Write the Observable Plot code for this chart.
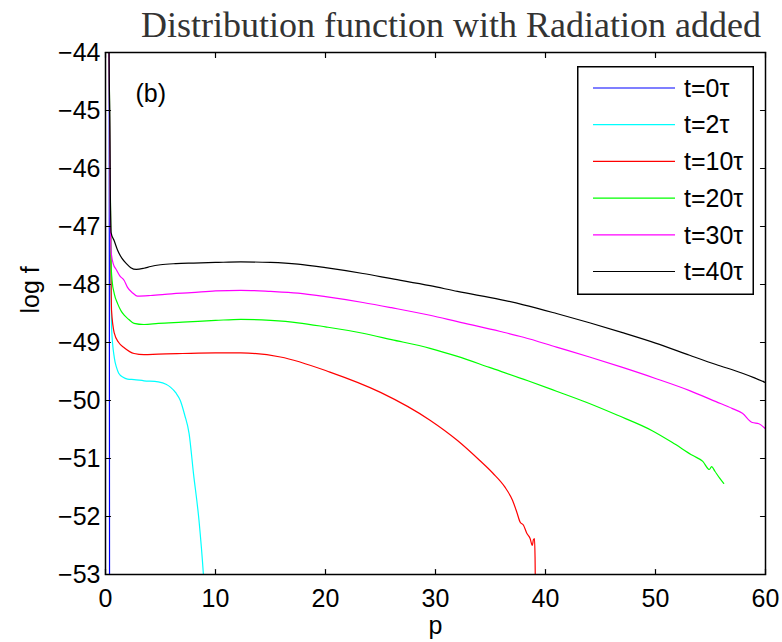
<!DOCTYPE html>
<html><head><meta charset="utf-8">
<script src="https://cdn.jsdelivr.net/npm/d3@7"></script>
<script src="https://cdn.jsdelivr.net/npm/@observablehq/plot@0.6"></script>
<style>
body{margin:0;background:#fff;}
#wrap{position:relative;width:782px;height:642px;overflow:hidden;}
#title{position:absolute;left:0;top:7px;width:902px;text-align:center;font-family:"Liberation Serif","Times New Roman",serif;font-size:36px;line-height:36px;color:#333;white-space:nowrap;}
#legend{position:absolute;left:577px;top:66px;}
</style></head>
<body>
<div id="wrap"><div id="title">Distribution function with Radiation added</div></div>
<script>
const seriesNames = ["t=0τ", "t=2τ", "t=10τ", "t=20τ", "t=30τ", "t=40τ"];
const seriesColors = ["#0000ff", "#00ffff", "#ff0000", "#00ff00", "#ff00ff", "#000000"];
const xTicks = [0, 10, 20, 30, 40, 50, 60];
const yTicks = [-53, -52, -51, -50, -49, -48, -47, -46, -45, -44];

const p0 = [0.33, 0.35, 0.37];
const f0 = [-43, -48, -54];

const p2 = [0.3, 0.5, 0.55, 0.8, 1.0, 1.2, 1.6, 2.0, 2.6, 3.5, 4.8, 5.5, 5.9, 6.4, 6.8, 7.2, 7.6, 8.0, 8.5, 8.9, 9.0];
const f2 = [-43.5, -48.0, -48.74, -49.26, -49.43, -49.53, -49.6, -49.63, -49.64, -49.66, -49.68, -49.72, -49.77, -49.87, -50.0, -50.25, -50.57, -51.26, -52.07, -53.0, -53.3];

const p10 = [0.3, 0.5, 0.55, 0.8, 1.2, 1.7, 2.6, 3.5, 4.8, 7, 10, 12.3, 15.9, 20.4, 25, 29.5, 32, 34, 35.2, 36.3, 37, 37.4, 37.7, 38.0, 38.3, 38.6, 38.8, 38.9, 39.0, 39.05, 39.1];
const f10 = [-43.5, -47.8, -48.45, -48.84, -49.0, -49.09, -49.19, -49.21, -49.2, -49.19, -49.18, -49.18, -49.25, -49.51, -49.86, -50.34, -50.69, -51.03, -51.25, -51.49, -51.72, -51.93, -52.1, -52.15, -52.29, -52.38, -52.5, -52.4, -52.38, -52.7, -53.5];

const p20 = [0.3, 0.5, 0.6, 0.8, 1.1, 1.4, 1.7, 2.1, 2.6, 3.5, 4.8, 7, 10, 12.3, 15, 17.5, 20, 23.4, 26, 29.5, 32, 34.9, 38.4, 41, 43.7, 46.5, 49.7, 51.5, 53.4, 54.3, 54.9, 55.1, 55.4, 55.8, 56.2];
const f20 = [-43.5, -47.6, -47.93, -48.16, -48.33, -48.45, -48.53, -48.6, -48.67, -48.69, -48.67, -48.65, -48.62, -48.6, -48.62, -48.66, -48.73, -48.84, -48.95, -49.1, -49.24, -49.43, -49.66, -49.84, -50.03, -50.25, -50.52, -50.72, -50.95, -51.05, -51.19, -51.14, -51.22, -51.33, -51.43];

const p30 = [0.3, 0.45, 0.5, 0.7, 1.0, 1.3, 1.7, 2.0, 2.5, 2.9, 4.1, 6, 7.8, 10, 12.3, 15, 17.5, 20, 23.4, 26, 29.5, 32, 35.9, 38, 41, 44, 47, 50, 53.1, 55.5, 57, 57.9, 58.8, 59.4, 60];
const f30 = [-43.5, -47.0, -47.41, -47.64, -47.75, -47.85, -47.93, -48.05, -48.15, -48.2, -48.19, -48.16, -48.14, -48.11, -48.1, -48.12, -48.15, -48.21, -48.31, -48.4, -48.53, -48.64, -48.81, -48.91, -49.08, -49.25, -49.43, -49.62, -49.83, -50.02, -50.14, -50.22, -50.38, -50.4, -50.49];

const p40 = [0.3, 0.45, 0.5, 0.8, 1.1, 1.5, 1.9, 2.3, 2.8, 3.5, 4.1, 5, 6.4, 8, 10, 12.3, 15, 17.5, 20, 23.4, 26, 29.5, 32, 35.9, 38, 41, 44, 47, 50, 53.1, 55.5, 57.9, 59, 60];
const f40 = [-43.5, -46.6, -47.10, -47.25, -47.41, -47.55, -47.64, -47.71, -47.74, -47.72, -47.69, -47.66, -47.64, -47.63, -47.62, -47.61, -47.62, -47.65, -47.71, -47.81, -47.9, -48.02, -48.12, -48.26, -48.35, -48.5, -48.66, -48.83, -49.01, -49.22, -49.38, -49.53, -49.61, -49.69];

const allP = [p0, p2, p10, p20, p30, p40];
const allF = [f0, f2, f10, f20, f30, f40];
const data = [];
allP.forEach((ps, i) => ps.forEach((p, j) => data.push({series: seriesNames[i], p, logf: allF[i][j]})));

const font = "'Liberation Sans', Arial, Helvetica, sans-serif";
const fs = 25;
const tickShape = {draw(context, l) { context.moveTo(0, 0); context.lineTo(0, -l); }};
const tick = (values, anchor, rotate, isX) => Plot.vector(values, {
  [isX ? "x" : "y"]: d => d, frameAnchor: anchor, rotate, length: 5, anchor: "start",
  shape: tickShape, stroke: "black", strokeWidth: 1.2
});

const chart = Plot.plot({
  width: 782, height: 642,
  marginTop: 52, marginBottom: 68, marginLeft: 105, marginRight: 17,
  style: {fontFamily: font, fontSize: fs + "px", color: "black", background: "transparent"},
  x: {domain: [0, 60]},
  y: {domain: [-53, -44]},
  color: {domain: seriesNames, range: seriesColors},
  length: {type: "identity"},
  marks: [
    Plot.line(data, {x: "p", y: "logf", z: "series", stroke: "series", strokeWidth: 1.2, curve: "monotone-x", clip: true}),
    Plot.axisX({anchor: "bottom", ticks: xTicks, tickSize: 0, tickPadding: 15, label: null, fontSize: fs}),
    Plot.axisY({anchor: "left", ticks: yTicks, tickSize: 0, tickPadding: 5, label: null, fontSize: fs}),
    tick(xTicks, "bottom", 0, true),
    tick(xTicks, "top", 180, true),
    tick(yTicks, "left", 90, false),
    tick(yTicks, "right", -90, false),
    Plot.frame({stroke: "black", strokeWidth: 1.5}),
    Plot.text(["(b)"], {text: d => d, frameAnchor: "top-left", dx: 30, dy: 41, textAnchor: "start", lineAnchor: "middle", fontSize: fs}),
    Plot.text(["p"], {text: d => d, frameAnchor: "bottom", dy: 51, lineAnchor: "middle", fontSize: fs}),
    Plot.text(["log f"], {text: d => d, frameAnchor: "left", dx: -75, rotate: -90, lineAnchor: "middle", fontSize: fs})
  ]
});
const wrap = document.getElementById("wrap");
wrap.insertBefore(chart, wrap.firstChild);

// legend
const lw = 177, lh = 229;
const leg = d3.select(wrap).append("svg").attr("id", "legend").attr("width", lw).attr("height", lh);
leg.append("rect").attr("x", 0.75).attr("y", 0.75).attr("width", lw - 1.5).attr("height", lh - 1.5)
  .attr("fill", "white").attr("stroke", "black").attr("stroke-width", 1.5);
seriesNames.forEach((name, i) => {
  const cy = 22 + i * 36.7;
  leg.append("line").attr("x1", 16).attr("x2", 98).attr("y1", cy).attr("y2", cy)
    .attr("stroke", seriesColors[i]).attr("stroke-width", 1.2);
  leg.append("text").attr("x", 107).attr("y", cy).attr("dy", "0.35em")
    .attr("font-family", font).attr("font-size", fs).text(name);
});
</script>
</body></html>
